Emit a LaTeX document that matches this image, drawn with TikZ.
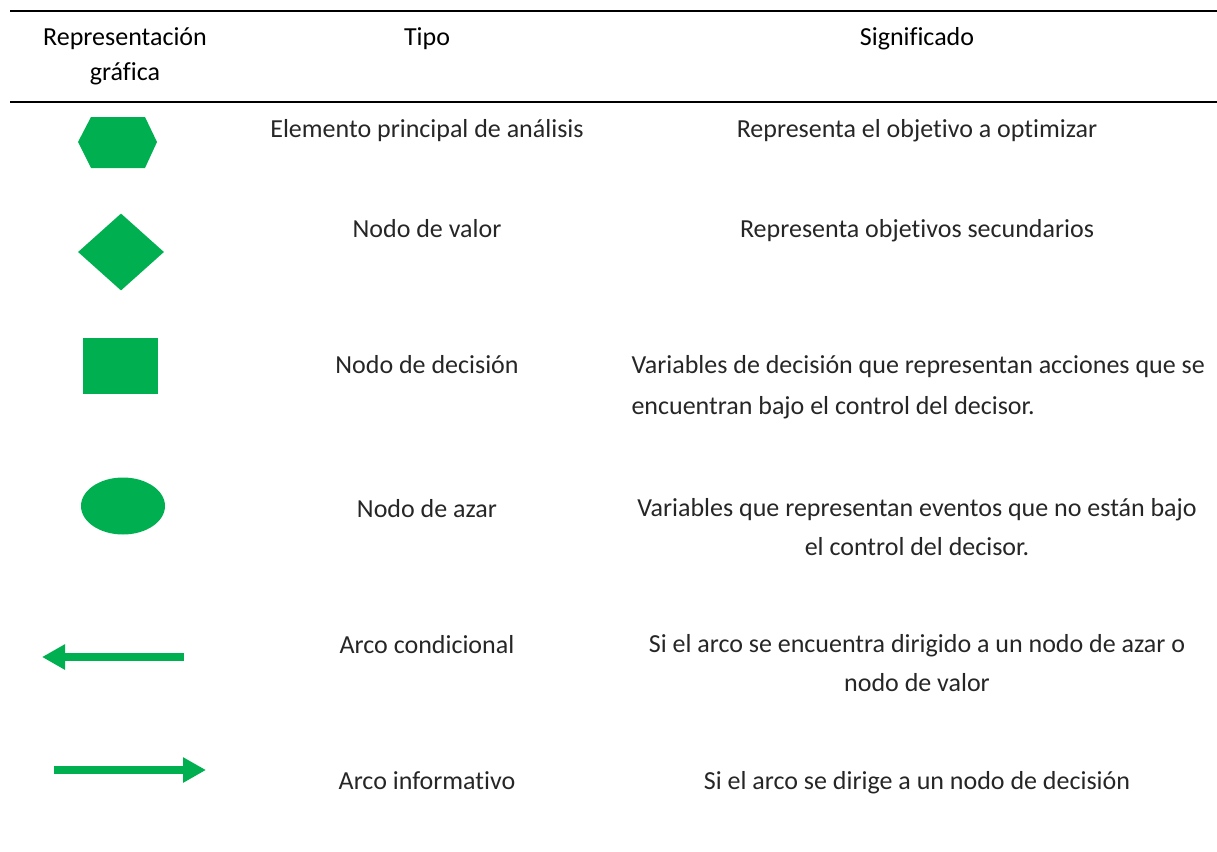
\documentclass[tikz,border=0pt]{standalone}
\usepackage{fontspec}
\setmainfont{Carlito}[Ligatures=NoCommon]
\usepackage{tikz}
\usetikzlibrary{shapes.geometric, arrows.meta}
\definecolor{ofgreen}{RGB}{0,176,80}

\begin{document}
\begin{tikzpicture}[x=1pt,y=-1pt,
        head/.style={anchor=base, font=\fontsize{26}{34}\selectfont, align=center},
        txt/.style={anchor=base, font=\fontsize{26}{39}\selectfont, text=black!85, align=center},
        glyph/.style={fill=ofgreen, draw=none, inner sep=0pt},
        arc/.style={ofgreen, line width=8pt, -{Triangle[length=23pt,width=24pt]}}]
        \useasboundingbox (0,0) rectangle (1217,851);
        % Rules
        \draw[line width=2.2pt] (10,11) -- (1217,11);
        \draw[line width=2.2pt] (10,102) -- (1217,102);
        % Header (multi-line nodes sit on their last baseline)
        \node[head] (hrep) at (125,80) {Representación\\gráfica};
        \node[head] (htipo) at (427,46) {Tipo};
        \node[head] (hsig) at (917,46) {Significado};

        % Glyphs
        \fill[ofgreen] (78,142) -- (91,117) -- (145,117) -- (157,142) -- (145,168) -- (91,168) -- cycle;
        \node[glyph, diamond, minimum width=86pt, minimum height=77pt] (valor) at (121,252) {};
        \node[glyph, rectangle, minimum width=75pt, minimum height=56pt] (decision) at (120.5,365.5) {};
        \node[glyph, ellipse, minimum width=84pt, minimum height=57pt] (azar) at (123,506) {};
        \coordinate (cond-a) at (184,657);
        \coordinate (cond-b) at (42,657);
        \draw[arc] (cond-a) -- (cond-b);
        \coordinate (info-a) at (54,770);
        \coordinate (info-b) at (206,770);
        \draw[arc] (info-a) -- (info-b);

        % Tipo
        \node[txt] (t1) at (427,137) {Elemento principal de análisis};
        \node[txt] (t2) at (427,237) {Nodo de valor};
        \node[txt] (t3) at (427,373) {Nodo de decisión};
        \node[txt] (t4) at (427,517) {Nodo de azar};
        \node[txt] (t5) at (427,653) {Arco condicional};
        \node[txt] (t6) at (427,789) {Arco informativo};

        % Significado
        \node[txt] (s1) at (917,137) {Representa el objetivo a optimizar};
        \node[txt] (s2) at (917,237) {Representa objetivos secundarios};
        \node[txt, anchor=base west, align=left, font=\fontsize{26}{41}\selectfont] (s3) at (628,414) {Variables de decisión que representan acciones que se\\encuentran bajo el control del decisor.};
        \node[txt] (s4) at (917,555) {Variables que representan eventos que no están bajo\\el control del decisor.};
        \node[txt] (s5) at (917,691) {Si el arco se encuentra dirigido a un nodo de azar o\\nodo de valor};
        \node[txt] (s6) at (917,789) {Si el arco se dirige a un nodo de decisión};
    \end{tikzpicture}
\end{document}
